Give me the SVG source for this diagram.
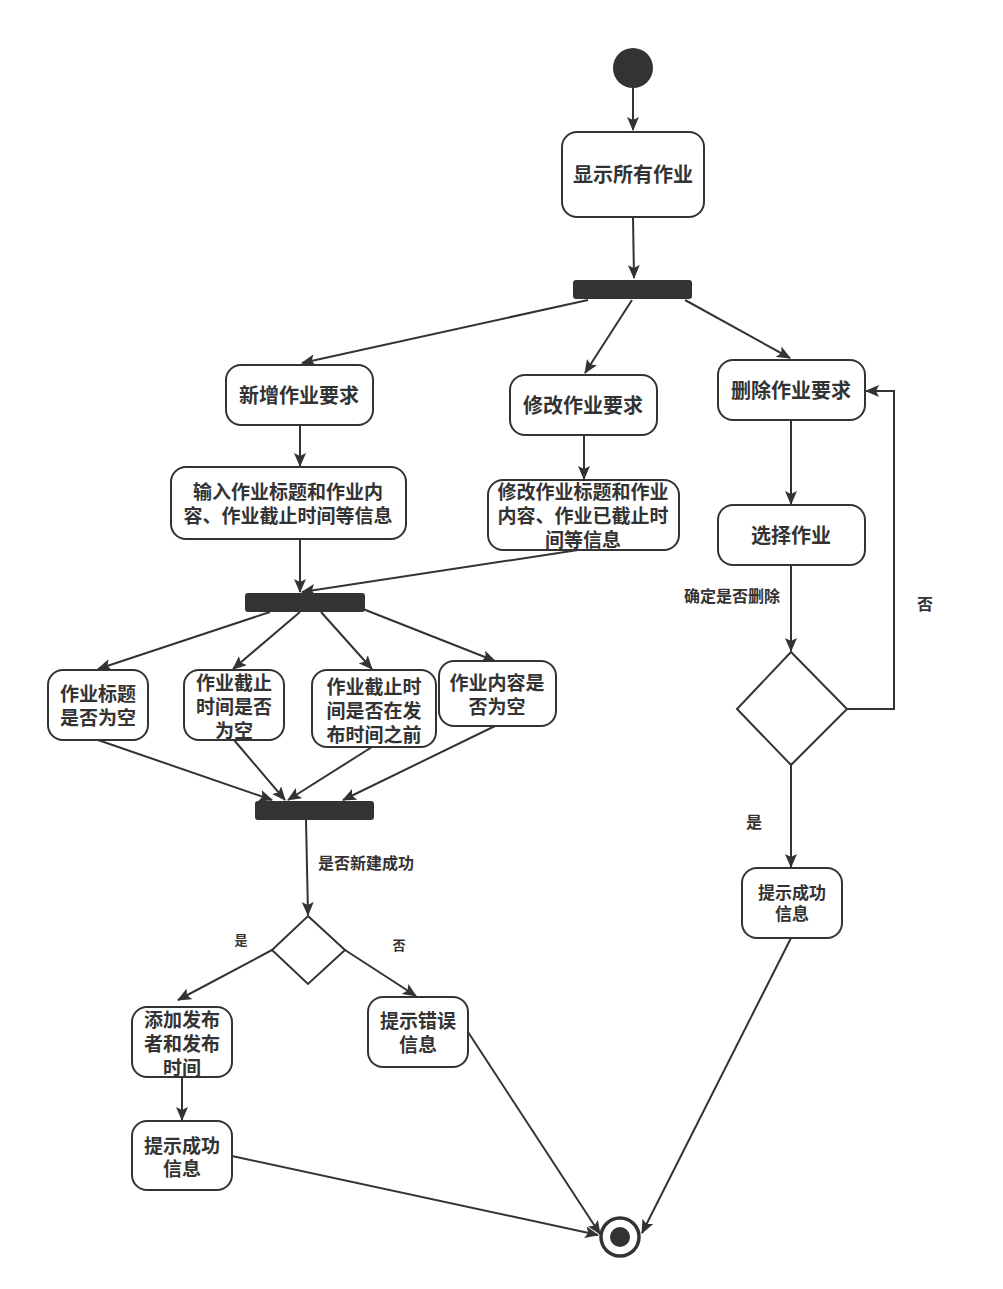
<svg xmlns="http://www.w3.org/2000/svg" width="1003" height="1289" viewBox="0 0 1003 1289">
<defs>
<marker id="arr" viewBox="0 0 14 12" refX="13" refY="6" markerWidth="14" markerHeight="12" markerUnits="userSpaceOnUse" orient="auto">
<path d="M0,0 L14,6 L0,12 L3,6 Z" fill="#333"/>
</marker>
<style>
.box{fill:#fff;stroke:#333;stroke-width:2}
.bar{fill:#333}
.t{font-family:"Noto Sans CJK SC","Noto Sans",sans-serif;font-weight:bold;fill:#333;text-anchor:middle}
.c{fill:none;stroke:#333;stroke-width:2}
.ca{fill:none;stroke:#333;stroke-width:2;marker-end:url(#arr)}
</style>
</defs>
<rect width="1003" height="1289" fill="#fff"/>
<g id="connectors">
<line class="ca" x1="633" y1="88" x2="633" y2="130"/>
<line class="ca" x1="633" y1="217" x2="634" y2="278"/>
<line class="ca" x1="588" y1="300" x2="302" y2="363"/>
<line class="ca" x1="632" y1="300" x2="585" y2="373"/>
<line class="ca" x1="685" y1="300" x2="790" y2="358"/>
<line class="ca" x1="300" y1="425" x2="300" y2="466"/>
<line class="ca" x1="584" y1="435" x2="584" y2="479"/>
<line class="ca" x1="300" y1="539" x2="300" y2="592"/>
<line class="ca" x1="578" y1="550" x2="302" y2="592"/>
<line class="ca" x1="270" y1="612" x2="98" y2="669"/>
<line class="ca" x1="300" y1="612" x2="233" y2="669"/>
<line class="ca" x1="321" y1="612" x2="372" y2="669"/>
<line class="ca" x1="363" y1="609" x2="495" y2="661"/>
<line class="ca" x1="98" y1="740" x2="272" y2="800"/>
<line class="ca" x1="234" y1="740" x2="285" y2="800"/>
<line class="ca" x1="372" y1="747" x2="288" y2="800"/>
<line class="ca" x1="495" y1="726" x2="343" y2="800"/>
<line class="ca" x1="306" y1="820" x2="308" y2="915"/>
<line class="ca" x1="272" y1="950" x2="178" y2="1000"/>
<line class="ca" x1="345" y1="950" x2="416" y2="996"/>
<line class="ca" x1="182" y1="1077" x2="182" y2="1120"/>
<line class="ca" x1="232" y1="1156" x2="598" y2="1235"/>
<line class="ca" x1="468" y1="1032" x2="600" y2="1234"/>
<line class="ca" x1="791" y1="938" x2="642" y2="1233"/>
<line class="ca" x1="791" y1="420" x2="791" y2="504"/>
<line class="ca" x1="791" y1="565" x2="791" y2="651"/>
<line class="ca" x1="791" y1="765" x2="791" y2="867"/>
<polyline class="ca" points="847,709 894,709 894,391 866,391"/>
<text class="t" x="366" y="869" font-size="16">是否新建成功</text>
<text class="t" x="241" y="945" font-size="13">是</text>
<text class="t" x="399" y="950" font-size="13">否</text>
<text class="t" x="732" y="602" font-size="16">确定是否删除</text>
<text class="t" x="925" y="610" font-size="16">否</text>
<text class="t" x="754" y="828" font-size="16">是</text>
</g>
<g id="start"><circle cx="633" cy="68" r="20" fill="#333"/></g>
<g id="show"><rect class="box" x="562" y="132" width="142" height="85" rx="15"/><text class="t" x="633" y="182" font-size="20">显示所有作业</text></g>
<g id="fork1"><rect class="bar" x="573" y="280" width="119" height="19" rx="3"/></g>
<g id="add"><rect class="box" x="226" y="365" width="147" height="60" rx="15"/><text class="t" x="299" y="403" font-size="20">新增作业要求</text></g>
<g id="modify"><rect class="box" x="510" y="375" width="147" height="60" rx="15"/><text class="t" x="583" y="413" font-size="20">修改作业要求</text></g>
<g id="delete"><rect class="box" x="718" y="360" width="147" height="60" rx="15"/><text class="t" x="791" y="398" font-size="20">删除作业要求</text></g>
<g id="input"><rect class="box" x="171" y="467" width="235" height="72" rx="15"/><text class="t" x="288" y="499" font-size="19">输入作业标题和作业内</text><text class="t" x="288" y="523" font-size="19">容、作业截止时间等信息</text></g>
<g id="modinfo"><rect class="box" x="488" y="480" width="191" height="70" rx="15"/><text class="t" x="583" y="499" font-size="19">修改作业标题和作业</text><text class="t" x="583" y="523" font-size="19">内容、作业已截止时</text><text class="t" x="583" y="547" font-size="19">间等信息</text></g>
<g id="fork2"><rect class="bar" x="245" y="593" width="120" height="19" rx="3"/></g>
<g id="chk1"><rect class="box" x="48" y="670" width="100" height="70" rx="15"/><text class="t" x="98" y="701" font-size="19">作业标题</text><text class="t" x="98" y="725" font-size="19">是否为空</text></g>
<g id="chk2"><rect class="box" x="184" y="670" width="100" height="70" rx="15"/><text class="t" x="234" y="690" font-size="19">作业截止</text><text class="t" x="234" y="714" font-size="19">时间是否</text><text class="t" x="234" y="738" font-size="19">为空</text></g>
<g id="chk3"><rect class="box" x="312" y="670" width="124" height="77" rx="15"/><text class="t" x="374" y="694" font-size="19">作业截止时</text><text class="t" x="374" y="718" font-size="19">间是否在发</text><text class="t" x="374" y="742" font-size="19">布时间之前</text></g>
<g id="chk4"><rect class="box" x="439" y="661" width="117" height="65" rx="15"/><text class="t" x="497" y="690" font-size="19">作业内容是</text><text class="t" x="497" y="714" font-size="19">否为空</text></g>
<g id="join"><rect class="bar" x="255" y="801" width="119" height="19" rx="3"/></g>
<g id="dec1"><polygon class="box" points="308,916 345,950 308,984 272,950"/></g>
<g id="addpub"><rect class="box" x="132" y="1007" width="100" height="70" rx="15"/><text class="t" x="182" y="1027" font-size="19">添加发布</text><text class="t" x="182" y="1051" font-size="19">者和发布</text><text class="t" x="182" y="1075" font-size="19">时间</text></g>
<g id="err"><rect class="box" x="368" y="997" width="100" height="70" rx="15"/><text class="t" x="418" y="1028" font-size="19">提示错误</text><text class="t" x="418" y="1052" font-size="19">信息</text></g>
<g id="ok1"><rect class="box" x="132" y="1121" width="100" height="69" rx="15"/><text class="t" x="182" y="1153" font-size="19">提示成功</text><text class="t" x="182" y="1176" font-size="19">信息</text></g>
<g id="select"><rect class="box" x="718" y="505" width="147" height="60" rx="15"/><text class="t" x="791" y="543" font-size="20">选择作业</text></g>
<g id="dec2"><polygon class="box" points="791,652 847,709 791,765 737,709"/></g>
<g id="ok2"><rect class="box" x="742" y="868" width="100" height="70" rx="15"/><text class="t" x="792" y="899" font-size="17">提示成功</text><text class="t" x="792" y="920" font-size="17">信息</text></g>
<g id="end"><circle cx="620" cy="1237" r="19" fill="#fff" stroke="#333" stroke-width="3.5"/><circle cx="620" cy="1237" r="10" fill="#333"/></g>
</svg>
